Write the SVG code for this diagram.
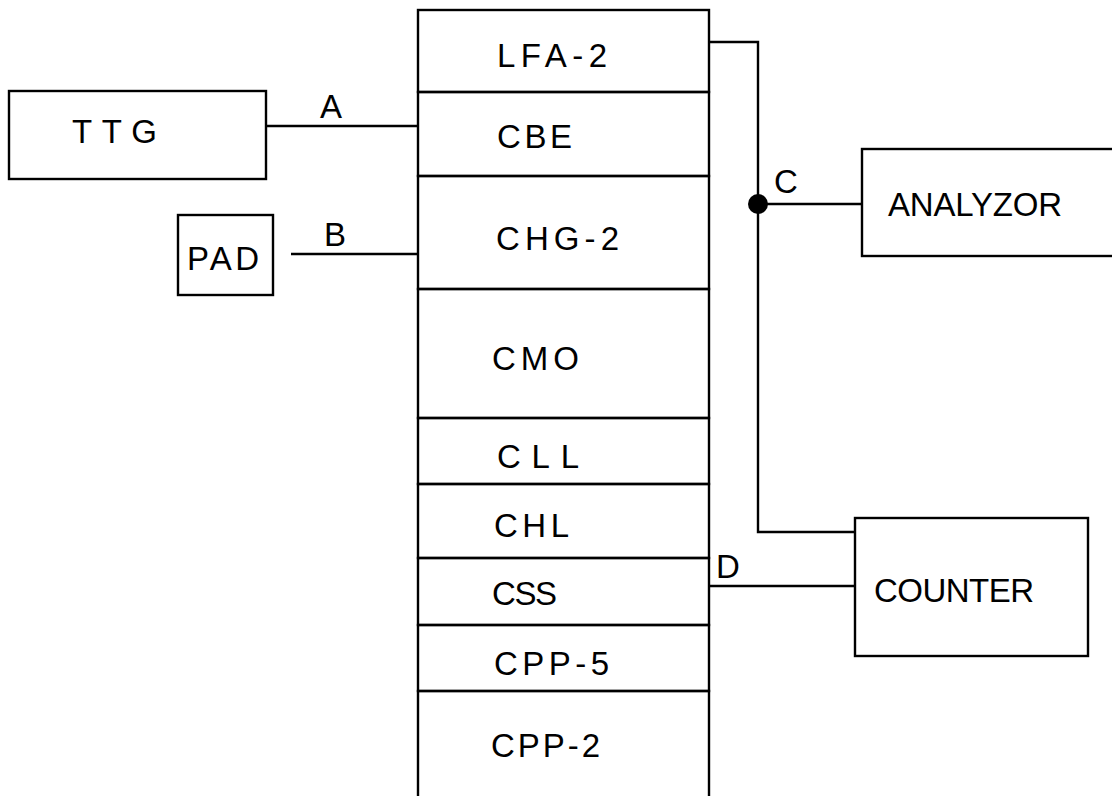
<svg xmlns="http://www.w3.org/2000/svg" width="1112" height="796" viewBox="0 0 1112 796">
<style>
.box{fill:none;stroke:#000;stroke-width:2.4}
.wire{fill:none;stroke:#000;stroke-width:2.4}
text{font-family:"Liberation Sans","DejaVu Sans",sans-serif;font-size:33px;fill:#000}
</style>
<rect width="1112" height="796" fill="#fff"/>
<g id="stack">
  <g id="lfa2"><rect class="box" x="418" y="10" width="291" height="82"/><text x="497" y="67" textLength="110" lengthAdjust="spacing">LFA-2</text></g>
  <g id="cbe"><rect class="box" x="418" y="92" width="291" height="84"/><text x="497" y="148" textLength="75" lengthAdjust="spacing">CBE</text></g>
  <g id="chg2"><rect class="box" x="418" y="176" width="291" height="113"/><text x="496" y="250" textLength="123" lengthAdjust="spacing">CHG-2</text></g>
  <g id="cmo"><rect class="box" x="418" y="289" width="291" height="129"/><text x="492" y="370" textLength="87" lengthAdjust="spacing">CMO</text></g>
  <g id="cll"><rect class="box" x="418" y="418" width="291" height="66"/><text x="497" y="468" textLength="82" lengthAdjust="spacing">CLL</text></g>
  <g id="chl"><rect class="box" x="418" y="484" width="291" height="74"/><text x="494" y="537" textLength="75" lengthAdjust="spacing">CHL</text></g>
  <g id="css"><rect class="box" x="418" y="558" width="291" height="67"/><text x="492" y="605" textLength="65" lengthAdjust="spacing">CSS</text></g>
  <g id="cpp5"><rect class="box" x="418" y="625" width="291" height="66"/><text x="494" y="675" textLength="115" lengthAdjust="spacing">CPP-5</text></g>
  <g id="cpp2"><rect class="box" x="418" y="691" width="291" height="120"/><text x="491" y="757" textLength="109" lengthAdjust="spacing">CPP-2</text></g>
</g>
<g id="ttg"><rect class="box" x="9" y="91" width="257" height="88"/><text x="72" y="143" textLength="85" lengthAdjust="spacing">TTG</text></g>
<g id="pad"><rect class="box" x="178" y="215" width="95" height="80"/><text x="187" y="270" textLength="72" lengthAdjust="spacing">PAD</text></g>
<g id="analyzor"><rect class="box" x="862" y="149" width="260" height="107"/><text x="888" y="216" textLength="174" lengthAdjust="spacing">ANALYZOR</text></g>
<g id="counter"><rect class="box" x="855" y="518" width="233" height="138"/><text x="874" y="602" textLength="160" lengthAdjust="spacing">COUNTER</text></g>
<g id="connectors">
  <polyline class="wire" points="266,126 418,126"/>
  <polyline class="wire" points="291,254 418,254"/>
  <polyline class="wire" points="709,42 758,42 758,532 855,532"/>
  <polyline class="wire" points="758,204 862,204"/>
  <circle cx="758" cy="204" r="10" fill="#000"/>
  <polyline class="wire" points="709,586 855,586"/>
  <text x="320" y="118">A</text>
  <text x="324" y="246">B</text>
  <text x="774" y="193">C</text>
  <text x="716" y="578">D</text>
</g>
</svg>
